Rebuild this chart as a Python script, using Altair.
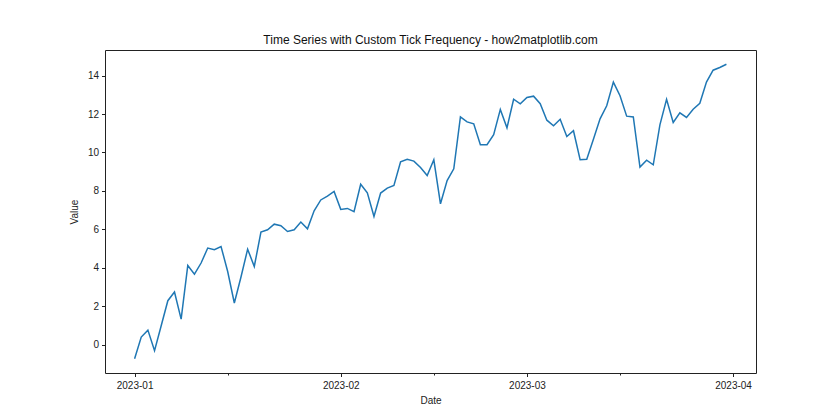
import altair as alt
import pandas as pd

# Data
start_date = "2023-01-01"
n_days = 90
values = [
    -0.73, 0.40, 0.76, -0.31, 0.99, 2.29, 2.74, 1.33, 4.12, 3.67,
    4.25, 5.03, 4.94, 5.11, 3.81, 2.17, 3.52, 4.97, 4.07, 5.86,
    5.98, 6.27, 6.19, 5.89, 5.98, 6.38, 6.03, 6.97, 7.53, 7.73,
    7.97, 7.04, 7.09, 6.92, 8.35, 7.90, 6.67, 7.89, 8.15, 8.28,
    9.51, 9.65, 9.55, 9.22, 8.80, 9.62, 7.33, 8.54, 9.15, 11.85,
    11.59, 11.49, 10.40, 10.40, 10.92, 12.24, 11.28, 12.77, 12.53, 12.86,
    12.93, 12.54, 11.68, 11.39, 11.73, 10.83, 11.13, 9.62, 9.65, 10.69,
    11.75, 12.43, 13.66, 12.95, 11.89, 11.85, 9.24, 9.60, 9.36, 11.44,
    12.76, 11.56, 12.06, 11.82, 12.25, 12.56, 13.66, 14.28, 14.42, 14.59,
]
major_ticks = ["2023-01-01T00:00:00", "2023-02-01T00:00:00", "2023-03-01T00:00:00", "2023-04-01T00:00:00"]
minor_ticks = ["2023-01-15T00:00:00", "2023-02-15T00:00:00", "2023-03-15T00:00:00"]
y_ticks = [0, 2, 4, 6, 8, 10, 12, 14]

dates = pd.date_range(start_date, periods=n_days, freq="D").strftime("%Y-%m-%dT%H:%M:%S")
df = pd.DataFrame({"Date": list(dates), "Value": values})

FONT = "Liberation Sans"
x_domain = ["2022-12-27T13:12:00", "2023-04-04T10:48:00"]
y_domain = [-1.47, 15.33]

x_scale = alt.Scale(domain=x_domain, nice=False)
y_scale = alt.Scale(domain=y_domain, nice=False, zero=False)

base = alt.Chart(df)

line = base.mark_line(color="#1f77b4", strokeWidth=1.5, clip=True).encode(
    x=alt.X("Date:T", scale=x_scale,
            axis=alt.Axis(values=major_ticks, format="%Y-%m", title="Date", orient="bottom",
                          grid=False, domain=False, tickSize=3.5, tickColor="#222",
                          labelFont=FONT, labelFontSize=10, labelColor="#222", labelPadding=4,
                          titleFont=FONT, titleFontSize=10, titleFontWeight="normal",
                          titleColor="#222", titlePadding=5)),
    y=alt.Y("Value:Q", scale=y_scale,
            axis=alt.Axis(values=y_ticks, title="Value", grid=False, domain=False,
                          tickSize=3.5, tickColor="#222",
                          labelFont=FONT, labelFontSize=10, labelColor="#222", labelPadding=3,
                          titleFont=FONT, titleFontSize=10, titleFontWeight="normal",
                          titleColor="#222", titlePadding=8)),
)

minor = base.mark_line(opacity=0).encode(
    x=alt.X("Date:T", scale=x_scale,
            axis=alt.Axis(values=minor_ticks, labels=False, title=None, orient="bottom",
                          grid=False, domain=False, tickSize=2, tickColor="#222")),
    y=alt.value(0),
)

chart = alt.layer(line, minor).resolve_axis(x="independent").properties(
    width=651,
    height=323,
    title=alt.TitleParams(
        "Time Series with Custom Tick Frequency - how2matplotlib.com",
        font=FONT, fontSize=12, fontWeight="normal", color="#111", offset=3, anchor="middle",
    ),
    autosize=alt.AutoSizeParams(type="none"),
    padding={"left": 105, "top": 50, "right": 84, "bottom": 47},
).configure_view(stroke="#222", strokeWidth=1)

chart.save("out.html", embed_options={"renderer": "svg", "actions": False})
